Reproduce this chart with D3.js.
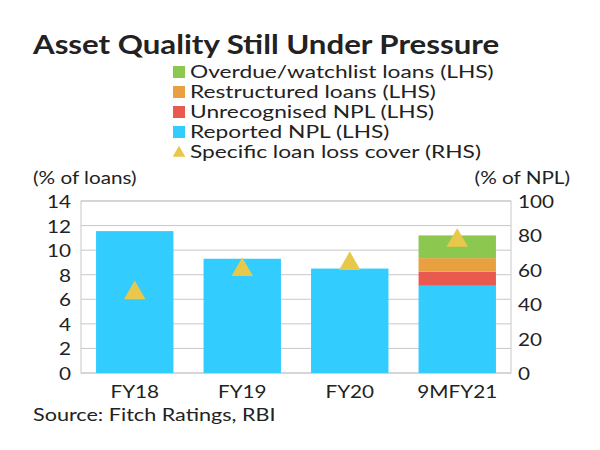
<!DOCTYPE html><html><head><meta charset="utf-8"><script src="https://cdn.jsdelivr.net/npm/d3@7"></script>
<style>body{margin:0;background:#fff}text{font-family:Lato,sans-serif;fill:#222}</style></head><body><svg width="600" height="450"></svg><script>
const categories=["FY18","FY19","FY20","9MFY21"];
const reported=[11.55,9.3,8.5,7.1];
const unrecognised=[0,0,0,1.15];
const restructured=[0,0,0,1.1];
const overdue=[0,0,0,1.85];
const cover=[46.5,60,63.5,77];
const leftTicks=[0,2,4,6,8,10,12,14];
const rightTicks=[0,20,40,60,80,100];
const svg=d3.select("svg");
const L=81,R=511,T=201,B=373;
const x=d3.scaleBand().domain(categories).range([L,R]).paddingInner(0.28).paddingOuter(0.14);
const y=d3.scaleLinear().domain([0,14]).range([B,T]);
const y2=d3.scaleLinear().domain([0,100]).range([B,T]);
function txt(xx,yy,s,size,sx,anchor,bold){const t=svg.append("text").attr("transform",`translate(${xx},${yy}) scale(${sx},1)`).attr("font-size",size).attr("text-anchor",anchor||"start").text(s);if(bold)t.attr("font-weight","bold");return t;}
svg.append("rect").attr("x",L).attr("y",T).attr("width",R-L).attr("height",B-T).attr("fill","none").attr("stroke","#c8c8c8");
svg.append("g").selectAll("line").data(leftTicks).join("line").attr("x1",L).attr("x2",R).attr("y1",d=>y(d)).attr("y2",d=>y(d)).attr("stroke","#c8c8c8");
const series=[{v:reported,c:"#33ccff"},{v:unrecognised,c:"#e85a50"},{v:restructured,c:"#e8a040"},{v:overdue,c:"#8cc850"}];
categories.forEach((cat,i)=>{let base=0;series.forEach(s=>{const v=s.v[i];if(v>0){svg.append("rect").attr("x",x(cat)).attr("width",x.bandwidth()).attr("y",y(base+v)).attr("height",y(base)-y(base+v)).attr("fill",s.c);}base+=v;});});
const tri=d3.symbol().type(d3.symbolTriangle).size(200);
svg.append("g").selectAll("path").data(categories).join("path").attr("d",tri).attr("fill","#e8c84a").attr("transform",(d,i)=>`translate(${x(d)+x.bandwidth()/2},${y2(cover[i])})`);
leftTicks.forEach(d=>txt(L-10,y(d)+7,d,18,1.15,"end"));
rightTicks.forEach(d=>txt(R+7,y2(d)+7,d,18,1.15));
categories.forEach(d=>txt(x(d)+x.bandwidth()/2,B+25,d,18,1.15,"middle"));
txt(33,54,"Asset Quality Still Under Pressure",26,1.2,"start",true);
const leg=[["Overdue/watchlist loans (LHS)","#8cc850","r"],["Restructured loans (LHS)","#e8a040","r"],["Unrecognised NPL (LHS)","#e85a50","r"],["Reported NPL (LHS)","#33ccff","r"],["Specific loan loss cover (RHS)","#e8c84a","t"]];
leg.forEach((l,i)=>{const yy=72+i*20;if(l[2]=="r")svg.append("rect").attr("x",173).attr("y",yy-6).attr("width",12).attr("height",12).attr("fill",l[1]);else svg.append("path").attr("d",d3.symbol().type(d3.symbolTriangle).size(70)).attr("fill",l[1]).attr("transform",`translate(179,${yy+1})`);txt(190,yy+6,l[0],17.5,1.3);});
txt(33,184,"(% of loans)",18,1.15);
txt(570,184,"(% of NPL)",18,1.15,"end");
txt(33,421,"Source: Fitch Ratings, RBI",18,1.2);
</script></body></html>
